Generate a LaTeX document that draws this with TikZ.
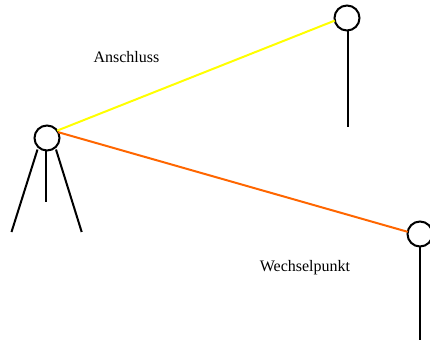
\documentclass[tikz,border=0pt]{standalone}
\usepackage{fontspec}
\setmainfont{Liberation Serif}
\tikzset{
  x=0.75pt,y=-0.75pt,
  joint/.style={circle,draw=black,line width=2*0.75pt,minimum size=25*0.75pt,inner sep=0pt,outer sep=0pt},
  limb/.style={draw=black,line width=2*0.75pt},
  link/.style={line width=2*0.75pt},
  lbl/.style={font=\fontsize{12}{14}\selectfont,inner sep=0pt,text=black}
}
\definecolor{linkyellow}{RGB}{255,255,0}
\definecolor{linkorange}{RGB}{255,102,0}
\begin{document}
\begin{tikzpicture}
\useasboundingbox (0,0) rectangle (430,340);
\node[joint] (l) at (47,138) {};
\node[joint] (t) at (347,18) {};
\node[joint] (r) at (420,234) {};
\coordinate (la) at (11.5,232);
\coordinate (lb) at (45.7,202);
\coordinate (lc) at (81.7,232);
\coordinate (te) at (347.7,127);
\coordinate (re) at (419.7,341);
\coordinate (las) at (37.5,149.5);
\coordinate (lbs) at (45.7,150.5);
\coordinate (lcs) at (56,149.5);
\coordinate (ts) at (347.7,31);
\coordinate (rs) at (419.7,247);
\draw[limb] (las) -- (la);
\draw[limb] (lbs) -- (lb);
\draw[limb] (lcs) -- (lc);
\draw[limb] (ts) -- (te);
\draw[limb] (rs) -- (re);
\draw[link,draw=linkyellow] (l.36) -- (t.192);
\draw[link,draw=linkorange] (l.28) -- (r.170);
\node[lbl] (a) at (126.5,57.5) {Anschluss};
\node[lbl] (w) at (305,268) {Wechselpunkt};
\end{tikzpicture}
\end{document}
